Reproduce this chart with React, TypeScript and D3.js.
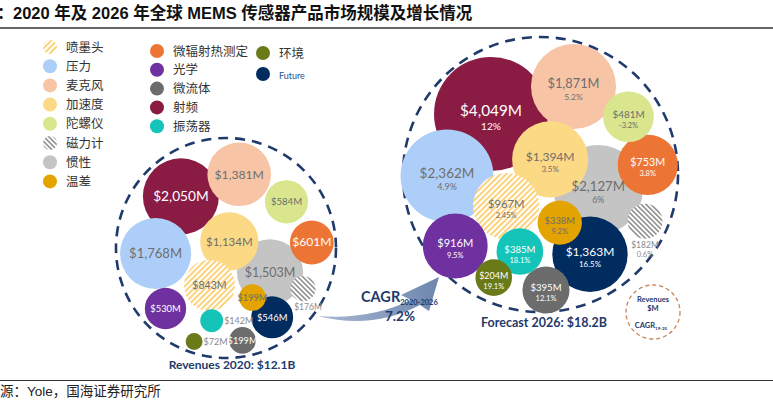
import { useMemo } from 'react'
import * as d3 from 'd3'

// categories in legend order
const categories = ['喷墨头', '压力', '麦克风', '加速度', '陀螺仪', '磁力计', '惯性', '温差',
  '微辐射热测定', '光学', '微流体', '射频', '振荡器', '环境', 'Future']
const revenue2020 = [843, 1768, 1381, 1134, 584, 176, 1503, 199, 601, 530, 199, 2050, 142, 72, 546]
const revenue2026 = [967, 2362, 1871, 1394, 481, 182, 2127, 338, 753, 916, 395, 4049, 385, 204, 1363]
const cagr = ['2.45%', '4.9%', '5.2%', '3.5%', '-3.2%', '0.6%', '6%', '9.2%', '3.8%', '9.5%', '12.1%', '12%', '18.1%', '19.1%', '16.5%']

// rough bubble placement inside each cluster, unit circle coords
const seeds2020: [number, number][] = [
  [-0.15, 0.34], [-0.64, 0.05], [0.12, -0.67], [0.03, -0.06], [0.55, -0.42], [0.70, 0.37], [0.40, 0.22], [0.24, 0.45],
  [0.78, -0.05], [-0.55, 0.55], [0.15, 0.84], [-0.41, -0.47], [-0.13, 0.66], [-0.29, 0.85], [0.42, 0.63]
]
const seeds2026: [number, number][] = [
  [-0.25, 0.23], [-0.68, 0.01], [0.24, -0.64], [0.07, -0.11], [0.64, -0.42], [0.76, 0.34], [0.42, 0.11], [0.14, 0.35],
  [0.78, -0.07], [-0.62, 0.52], [0.04, 0.84], [-0.36, -0.44], [-0.15, 0.56], [-0.34, 0.75], [0.36, 0.58]
]

const colors: Record<string, string> = {
  '喷墨头': 'url(#hatchYellow)', '压力': '#AECEFA', '麦克风': '#F7C4A6', '加速度': '#FCD985', '陀螺仪': '#D9E68D',
  '磁力计': 'url(#hatchGray)', '惯性': '#C4C4C4', '温差': '#E3A300', '微辐射热测定': '#EC7535', '光学': '#7031A0',
  '微流体': '#6C6C6C', '射频': '#8A1B42', '振荡器': '#14C4B8', '环境': '#6A7A19', 'Future': '#002C60'
}
const whiteText = new Set(['光学', '射频', '微辐射热测定', '振荡器', '微流体', 'Future', '环境'])
const outside2020: Record<string, string> = { '振荡器': 'right', '环境': 'right', '磁力计': 'below' }
const outside2026: Record<string, string> = { '磁力计': 'below' }

const navy = '#1F3A6B'
const fmt = (v: number) => '$' + d3.format(',')(v) + 'M'
const labelFont = 'Lato, "Open Sans", sans-serif'

function Cluster({ values, seeds, cx, cy, R, rScale, fScale, outside, pct }: any) {
  const x = d3.scaleLinear().domain([-1, 1]).range([cx - R, cx + R])
  const y = d3.scaleLinear().domain([-1, 1]).range([cy - R, cy + R])
  const nodes = categories.map((c, i) => ({
    c, v: values[i], p: pct ? pct[i] : null,
    x: x(seeds[i][0]), y: y(seeds[i][1]), r: rScale(values[i])
  })).sort((a, b) => b.v - a.v)

  return (
    <g>
      <circle cx={cx} cy={cy} r={R} fill="none" stroke={navy} strokeWidth={2.6} strokeDasharray="10 7" />
      {nodes.map(n => (
        <circle key={n.c} cx={n.x} cy={n.y} r={n.r} fill={colors[n.c]} />
      ))}
      {nodes.map(n => {
        const fs = fScale(n.r)
        const pfs = Math.max(7.5, fs * 0.66)
        const fill = whiteText.has(n.c) ? '#fff' : '#6E6E6E'
        const pos = outside[n.c]
        if (pos === 'right') {
          return (
            <text key={n.c} x={n.x + n.r + 1} y={n.y + 3.2} fontSize={9} fill="#8A8A8A" fontFamily={labelFont}>{fmt(n.v)}</text>
          )
        }
        if (pos === 'below') {
          return (
            <g key={n.c} fontFamily={labelFont} fill="#8A8A8A" textAnchor="middle">
              <text x={n.x + (pct ? 0 : 5)} y={n.y + n.r + 9} fontSize={8.5}>{fmt(n.v)}</text>
              {n.p && <text x={n.x} y={n.y + n.r + 18.5} fontSize={7.5}>{n.p}</text>}
            </g>
          )
        }
        if (n.p) {
          return (
            <g key={n.c} fontFamily={labelFont} fill={fill} textAnchor="middle">
              <text x={n.x} y={n.y + fs * 0.13} fontSize={fs}>{fmt(n.v)}</text>
              <text x={n.x} y={n.y + fs * 0.13 + pfs * 1.35} fontSize={pfs}>{n.p}</text>
            </g>
          )
        }
        return (
          <text key={n.c} x={n.x} y={n.y + fs * 0.36} fontSize={n.c === '微辐射热测定' ? fs * 1.25 : fs} fill={fill} textAnchor="middle" fontFamily={labelFont}>{fmt(n.v)}</text>
        )
      })}
    </g>
  )
}

export default function App() {
  const W = 773
  const H = 409

  const r2020 = useMemo(() => d3.scalePow().exponent(0.45).domain([0, d3.max(revenue2020)!]).range([0, 38]), [])
  const r2026 = useMemo(() => d3.scalePow().exponent(0.38).domain([0, d3.max(revenue2026)!]).range([0, 57]), [])
  const f2020 = d3.scaleLinear().domain([20, 38]).range([9.2, 13.7]).clamp(true)
  const f2026 = d3.scaleLinear().domain([20, 57]).range([9, 15.3]).clamp(true)

  const col1 = categories.slice(0, 8)
  const col2 = categories.slice(8, 13)
  const col3 = categories.slice(13)

  const legendItem = (c: string, lx: number, ly: number) => (
    <g key={c}>
      <circle cx={lx} cy={ly} r={7} fill={colors[c]} />
      <text x={lx + 16} y={ly + 4.5} fontSize={c === 'Future' ? 9 : 12.5}
        fill={c === 'Future' ? '#1F4E96' : '#333'}
        fontFamily={c === 'Future' ? labelFont : '"Noto Sans CJK SC", sans-serif'}>{c}</text>
    </g>
  )

  return (
    <svg width={W} height={H} style={{ position: 'absolute', left: 0, top: 0, background: '#fff' }}>
      <defs>
        <pattern id="hatchYellow" patternUnits="userSpaceOnUse" width={4} height={4} patternTransform="rotate(45)">
          <rect width={4} height={4} fill="#fff" />
          <rect width={2} height={4} fill="#FCD27A" />
        </pattern>
        <pattern id="hatchGray" patternUnits="userSpaceOnUse" width={3.5} height={3.5} patternTransform="rotate(-45)">
          <rect width={3.5} height={3.5} fill="#fff" />
          <rect width={1.6} height={3.5} fill="#8C8C8C" />
        </pattern>
        <linearGradient id="arrowGrad" x1="0%" x2="100%" y1="0%" y2="0%">
          <stop offset="0%" stopColor="#A8B9D4" />
          <stop offset="100%" stopColor="#6E86AD" />
        </linearGradient>
      </defs>

      {/* title */}
      <text x={-3} y={19} fontSize={16.5} fontWeight="bold" fill="#111" fontFamily='"Noto Sans CJK SC", sans-serif'>：</text>
      <text x={13} y={19} fontSize={16.5} fontWeight="bold" fill="#111" fontFamily='"Liberation Sans", "Noto Sans CJK SC", sans-serif'>
        2020 年及 2026 年全球 MEMS 传感器产品市场规模及增长情况
      </text>
      <line x1={0} x2={W} y1={28} y2={28} stroke="#333" strokeWidth={1.3} />

      {/* legend */}
      {col1.map((c, i) => legendItem(c, 50, 47 + i * 19.2))}
      {col2.map((c, i) => legendItem(c, 157, 51 + i * 18.8))}
      {col3.map((c, i) => legendItem(c, 263, 53 + i * 21))}

      <Cluster values={revenue2020} seeds={seeds2020} cx={226} cy={248} R={110} rScale={r2020} fScale={f2020} outside={outside2020} />
      <Cluster values={revenue2026} seeds={seeds2026} cx={540.5} cy={174.5} R={137.5} rScale={r2026} fScale={f2026} outside={outside2026} pct={cagr} />

      <text x={232} y={369} textAnchor="middle" fontSize={12} fontWeight="bold" fill={navy} fontFamily={labelFont}>Revenues 2020: $12.1B</text>
      <text x={544} y={327} textAnchor="middle" fontSize={12.5} fontWeight="bold" fill={navy} fontFamily={labelFont}>Forecast 2026: $18.2B</text>

      {/* CAGR arrow */}
      <path d="M318,316 Q372,330 420,305 L429,311 L439,277 L401,295 L411,300 Q370,320 318,316 Z" fill="url(#arrowGrad)" />
      <text x={361} y={302} fontSize={14.5} fontWeight="bold" fill={navy} fontFamily={labelFont}>
        CAGR<tspan fontSize={7.5} dy={3}>2020-2026</tspan>
      </text>
      <text x={400} y={321} textAnchor="middle" fontSize={13.5} fontWeight="bold" fill={navy} fontFamily={labelFont}>7.2%</text>

      {/* small key */}
      <circle cx={653} cy={312} r={27} fill="none" stroke="#C8855A" strokeWidth={1.3} strokeDasharray="4 3" />
      <g fontFamily={labelFont} fill={navy} textAnchor="middle" fontWeight="bold">
        <text x={653} y={302} fontSize={7.5}>Revenues</text>
        <text x={653} y={311} fontSize={7.5}>$M</text>
        <text x={651} y={328} fontSize={7.5}>CAGR<tspan fontSize={4.5} dy={1.5}>19-25</tspan></text>
      </g>

      {/* source */}
      <line x1={0} x2={W} y1={380.5} y2={380.5} stroke="#333" strokeWidth={1} />
      <text x={0} y={396} fontSize={13.5} fill="#222" fontFamily='"Liberation Sans", "Noto Sans CJK SC", sans-serif'>源：Yole，国海证券研究所</text>
    </svg>
  )
}
